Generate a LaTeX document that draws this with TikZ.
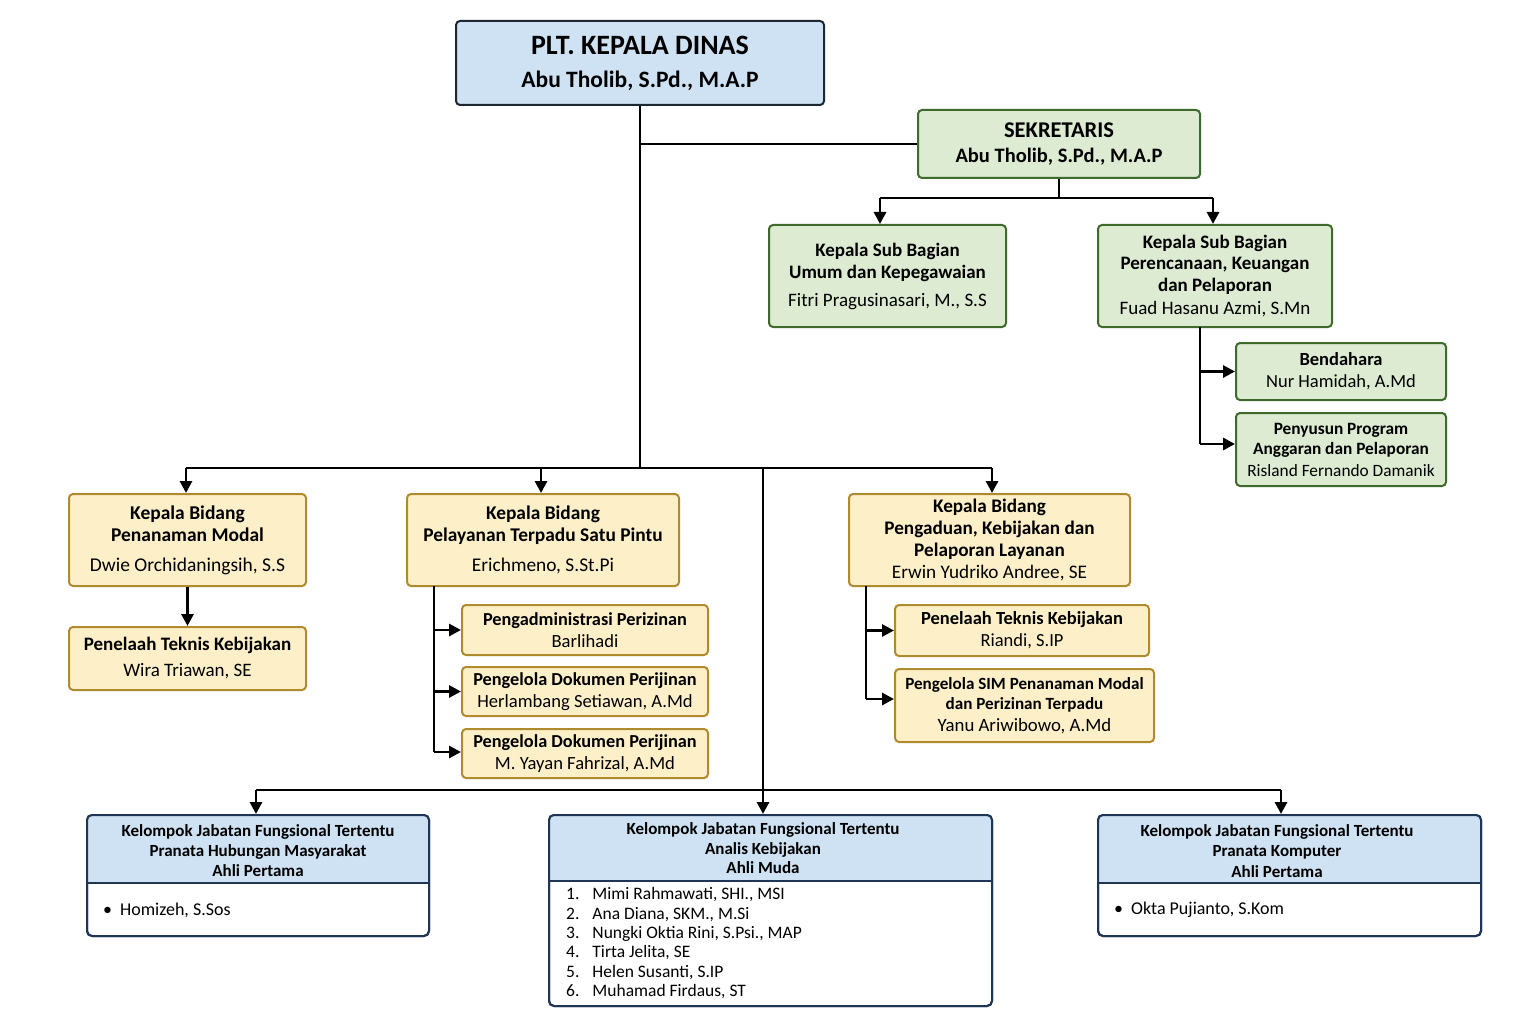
\documentclass[tikz,border=0pt]{standalone}
\usepackage{fontspec}
\setmainfont{Carlito}
\usetikzlibrary{arrows.meta}
\definecolor{bluef}{HTML}{CFE2F3}
\definecolor{blueb}{HTML}{1F3555}
\definecolor{topb}{HTML}{1C2733}
\definecolor{greenf}{HTML}{DCEBD1}
\definecolor{greenb}{HTML}{3E6B2C}
\definecolor{yelf}{HTML}{FDF0C9}
\definecolor{yelb}{HTML}{B08A2E}
\newcommand{\fs}[2]{\fontsize{#1pt}{#2pt}\selectfont}
\begin{document}
\begin{tikzpicture}[x=1pt,y=-1pt,
  box/.style={rounded corners=4pt, line width=2pt, align=center, inner sep=0pt},
  tbox/.style={box, draw=topb, fill=bluef},
  gbox/.style={box, draw=greenb, fill=greenf},
  ybox/.style={box, draw=yelb, fill=yelf},
  jbox/.style={rounded corners=5pt, line width=2pt, draw=blueb, inner sep=0pt},
  conn/.style={line width=2.9pt, draw=black},
  arr/.style={conn, -{Triangle[length=12pt,width=12pt]}}
]
\useasboundingbox (0,0) rectangle (1536,1024);
\fill[white] (0,0) rectangle (1536,1024);

\coordinate (trunkB) at (640,468);
\coordinate (sj) at (640,144);
\coordinate (sekB) at (1059,198);
\coordinate (sekL) at (880,198);
\coordinate (sekR) at (1213,198);
\coordinate (busL) at (186,468);
\coordinate (busR) at (992,468);
\coordinate (busM) at (541,468);
\coordinate (busJ) at (763,468);
\coordinate (bbL) at (256,790);
\coordinate (bbR) at (1281,790);

% ---- top
\node[tbox, minimum width=368pt, minimum height=84pt, font=\fs{28}{33}\bfseries] (top) at (640,63)
  {PLT. KEPALA DINAS\\{\fs{23.5}{33}Abu Tholib, S.Pd., M.A.P}};

% ---- secretariat
\node[gbox, minimum width=282pt, minimum height=68pt, font=\fs{22.5}{25}\bfseries] (sek) at (1059,144)
  {SEKRETARIS\\{\fs{20.5}{25}Abu Tholib, S.Pd., M.A.P}};
\node[gbox, minimum width=237pt, minimum height=102pt, font=\fs{19}{22}] (ks1) at (887.5,276)
  {\bfseries Kepala Sub Bagian\\\bfseries Umum dan Kepegawaian\\[6pt]Fitri Pragusinasari, M., S.S};
\node[gbox, minimum width=234pt, minimum height=102pt, font=\fs{19}{21.5}] (ks2) at (1215,276)
  {\bfseries Kepala Sub Bagian\\\bfseries Perencanaan, Keuangan\\\bfseries dan Pelaporan\\[2pt]Fuad Hasanu Azmi, S.Mn};
\node[gbox, minimum width=210pt, minimum height=57pt, font=\fs{18.5}{22}] (bend) at (1341,371.5)
  {\bfseries Bendahara\\Nur Hamidah, A.Md};
\node[gbox, minimum width=210pt, minimum height=73pt, font=\fs{17.3}{20.5}] (peny) at (1341,449.5)
  {\bfseries Penyusun Program\\\bfseries Anggaran dan Pelaporan\\[1pt]Risland Fernando Damanik};

% ---- bidang
\node[ybox, minimum width=237pt, minimum height=92pt, font=\fs{19.5}{22}] (kpm) at (187.5,540)
  {\bfseries Kepala Bidang\\\bfseries Penanaman Modal\\[8pt]Dwie Orchidaningsih, S.S};
\node[ybox, minimum width=237pt, minimum height=63pt, font=\fs{19}{26}] (pen1) at (187.5,658.5)
  {\bfseries Penelaah Teknis Kebijakan\\Wira Triawan, SE};
\node[ybox, minimum width=272pt, minimum height=92pt, font=\fs{19.4}{22}] (kptsp) at (543,540)
  {\bfseries Kepala Bidang\\\bfseries Pelayanan Terpadu Satu Pintu\\[8pt]Erichmeno, S.St.Pi};
\node[ybox, minimum width=246pt, minimum height=50pt, font=\fs{18.3}{22}] (s1) at (585,630)
  {\bfseries Pengadministrasi Perizinan\\{\fs{18.6}{22}Barlihadi}};
\node[ybox, minimum width=246pt, minimum height=49pt, font=\fs{18.3}{22}] (s2) at (585,691.5)
  {\bfseries Pengelola Dokumen Perijinan\\{\fs{18.6}{22}Herlambang Setiawan, A.Md}};
\node[ybox, minimum width=246pt, minimum height=49pt, font=\fs{18.3}{22}] (s3) at (585,753.5)
  {\bfseries Pengelola Dokumen Perijinan\\{\fs{18.6}{22}M. Yayan Fahrizal, A.Md}};
\node[ybox, minimum width=281pt, minimum height=92pt, font=\fs{19.2}{21.7}] (kpeng) at (989.5,540)
  {\bfseries Kepala Bidang\\\bfseries Pengaduan, Kebijakan dan\\\bfseries Pelaporan Layanan\\Erwin Yudriko Andree, SE};
\node[ybox, minimum width=254pt, minimum height=51pt, font=\fs{18.5}{22}] (r1) at (1022,630.5)
  {\bfseries Penelaah Teknis Kebijakan\\Riandi, S.IP};
\node[ybox, minimum width=259pt, minimum height=73pt, font=\fs{17.1}{20.5}] (r2) at (1024.5,705.5)
  {\bfseries Pengelola SIM Penanaman Modal\\\bfseries dan Perizinan Terpadu\\[1pt]{\fs{18.8}{21}Yanu Ariwibowo, A.Md}};

% ---- jabatan fungsional boxes
\node[jbox, fill=white, minimum width=342pt, minimum height=121pt] (jf1) at (258,875.5) {};
\begin{scope}
  \clip[rounded corners=5pt] (87,815) rectangle (429,936);
  \fill[bluef] (87,815) rectangle (429,883);
\end{scope}
\draw[blueb, line width=2pt] (87,883) -- (429,883);
\draw[jbox] (87,815) rectangle (429,936);
\node[align=center, font=\fs{17}{20}\bfseries, inner sep=0pt] (jf1h) at (258,851)
  {Kelompok Jabatan Fungsional Tertentu\\Pranata Hubungan Masyarakat\\Ahli Pertama};
\node[anchor=west, font=\fs{18}{20}, inner sep=0pt] (jf1b) at (103,910) {•\hspace{8pt}Homizeh, S.Sos};

\node[jbox, fill=white, minimum width=443pt, minimum height=191pt] (jf2) at (770.5,910.5) {};
\begin{scope}
  \clip[rounded corners=5pt] (549,815) rectangle (992,1006);
  \fill[bluef] (549,815) rectangle (992,881);
\end{scope}
\draw[blueb, line width=2pt] (549,881) -- (992,881);
\draw[jbox] (549,815) rectangle (992,1006);
\node[align=center, font=\fs{17}{19.5}\bfseries, inner sep=0pt] (jf2h) at (763,848.5)
  {Kelompok Jabatan Fungsional Tertentu\\Analis Kebijakan\\Ahli Muda};
\node[anchor=north west, align=left, font=\fs{17.5}{19.4}, inner sep=0pt] (jf2b) at (566,886)
  {\begin{tabular}{@{}l@{\hspace{13pt}}l@{}}
   1. & Mimi Rahmawati, SHI., MSI\\
   2. & Ana Diana, SKM., M.Si\\
   3. & Nungki Oktia Rini, S.Psi., MAP\\
   4. & Tirta Jelita, SE\\
   5. & Helen Susanti, S.IP\\
   6. & Muhamad Firdaus, ST
   \end{tabular}};

\node[jbox, fill=white, minimum width=383pt, minimum height=121pt] (jf3) at (1289.5,875.5) {};
\begin{scope}
  \clip[rounded corners=5pt] (1098,815) rectangle (1481,936);
  \fill[bluef] (1098,815) rectangle (1481,883);
\end{scope}
\draw[blueb, line width=2pt] (1098,883) -- (1481,883);
\draw[jbox] (1098,815) rectangle (1481,936);
\node[align=center, font=\fs{17}{20.5}\bfseries, inner sep=0pt] (jf3h) at (1277,851)
  {Kelompok Jabatan Fungsional Tertentu\\Pranata Komputer\\Ahli Pertama};
\node[anchor=west, font=\fs{18}{20}, inner sep=0pt] (jf3b) at (1114,910) {•\hspace{8pt}Okta Pujianto, S.Kom};

% ---- connectors
\draw[conn] (top.south) -- (trunkB);
\draw[conn] (sj) -- (sek.west);
\draw[conn] (sek.south) -- (sekB);
\draw[conn] (sekL) -- (sekR);
\draw[arr] (sekL) -- (sekL |- ks1.north);
\draw[arr] (sekR) -- (sekR |- ks2.north);
\coordinate (ks2d) at (1200,327);
\coordinate (ks2e) at (1200,444);
\draw[conn] (ks2d) -- (ks2e);
\draw[arr] (ks2d |- bend.west) -- (bend.west);
\draw[arr] (ks2e) -- (ks2e -| peny.west);

\draw[conn] (busL) -- (busR);
\draw[arr] (busL) -- (busL |- kpm.north);
\draw[arr] (busM) -- (busM |- kptsp.north);
\draw[arr] (busR) -- (busR |- kpeng.north);
\draw[arr] (kpm.south) -- (pen1.north);

\coordinate (pt0) at (434,586);
\coordinate (pt1) at (434,752);
\draw[conn] (pt0) -- (pt1);
\draw[arr] (pt0 |- s1.west) -- (s1.west);
\draw[arr] (pt0 |- s2.west) -- (s2.west);
\draw[arr] (pt1) -- (pt1 -| s3.west);

\coordinate (pg0) at (866,586);
\coordinate (pg1) at (866,699);
\draw[conn] (pg0) -- (pg1);
\draw[arr] (pg0 |- r1.west) -- (r1.west);
\draw[arr] (pg1) -- (pg1 -| r2.west);

\draw[arr] (busJ) -- (busJ |- jf2.north);
\draw[conn] (bbL) -- (bbR);
\draw[arr] (bbL) -- (bbL |- jf1.north);
\draw[arr] (bbR) -- (bbR |- jf3.north);
\end{tikzpicture}
\end{document}
